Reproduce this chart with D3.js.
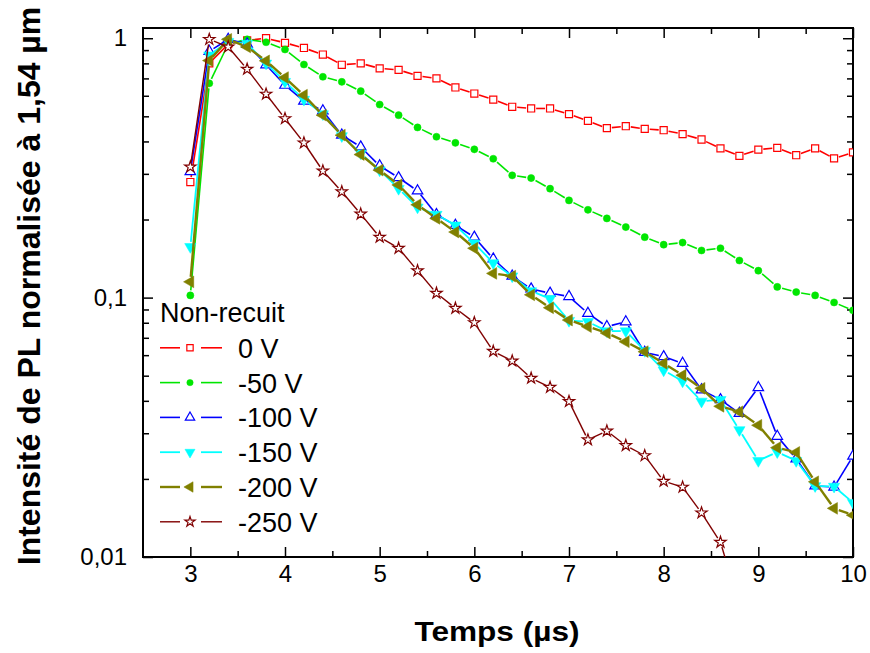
<!DOCTYPE html>
<meta charset="utf-8">
<style>
	body { margin: 0; background: #fff; }
	text { font-family: Arial, "Liberation Sans", sans-serif; }
	.axis path, .axis line { stroke: #000; }
	.axis text { font-size: 24px; fill: #000; }
	.title { font-weight: bold; }
</style>
<body>
<script src="https://cdn.jsdelivr.net/npm/d3@7"></script>
<script>
var width = 870,
    height = 653;

var margin = {left: 143, right: 17, top: 28, bottom: 96};

// time points (µs)
var time = [3.0, 3.2, 3.4, 3.6, 3.8, 4.0, 4.2, 4.4, 4.6, 4.8, 5.0, 5.2, 5.4, 5.6, 5.8, 6.0, 6.2, 6.4,
            6.6, 6.8, 7.0, 7.2, 7.4, 7.6, 7.8, 8.0, 8.2, 8.4, 8.6, 8.8, 9.0, 9.2, 9.4, 9.6, 9.8, 10.0];

var v0 = [0.279, 0.80, 0.95, 0.98, 1.0, 0.96, 0.917, 0.865, 0.79, 0.80, 0.765, 0.755, 0.716, 0.70, 0.646,
          0.612, 0.58, 0.544, 0.536, 0.536, 0.51, 0.48, 0.45, 0.458, 0.447, 0.442, 0.427, 0.407, 0.376,
          0.352, 0.372, 0.378, 0.354, 0.376, 0.344, 0.363];
var v50 = [0.102, 0.67, 0.95, 0.99, 0.965, 0.905, 0.792, 0.71, 0.679, 0.625, 0.555, 0.505, 0.453, 0.417,
           0.395, 0.373, 0.343, 0.296, 0.289, 0.263, 0.237, 0.218, 0.202, 0.187, 0.171, 0.16, 0.163, 0.152,
           0.155, 0.139, 0.127, 0.110, 0.105, 0.102, 0.0958, 0.0893];
var v100 = [0.306, 0.89, 0.99, 0.95, 0.79, 0.659, 0.572, 0.525, 0.423, 0.381, 0.322, 0.290, 0.258, 0.209,
            0.19, 0.171, 0.141, 0.121, 0.108, 0.104, 0.101, 0.087, 0.0773, 0.0807, 0.0615, 0.0592, 0.0558,
            0.0441, 0.0404, 0.0358, 0.045, 0.0292, 0.0239, 0.0188, 0.0186, 0.0245];
var v150 = [0.157, 0.86, 0.97, 0.954, 0.80, 0.68, 0.58, 0.51, 0.42, 0.36, 0.31, 0.263, 0.223, 0.209, 0.19,
            0.162, 0.136, 0.121, 0.106, 0.099, 0.0815, 0.0807, 0.0743, 0.0743, 0.0624, 0.0525, 0.0476,
            0.0398, 0.0404, 0.0309, 0.0235, 0.0254, 0.0235, 0.0188, 0.0187, 0.0162];
var v200 = [0.115, 0.82, 0.99, 0.926, 0.818, 0.705, 0.603, 0.505, 0.423, 0.356, 0.31, 0.272, 0.228, 0.202,
            0.179, 0.155, 0.124, 0.121, 0.1025, 0.0914, 0.0819, 0.0773, 0.073, 0.0676, 0.0619, 0.0558,
            0.0502, 0.0447, 0.0381, 0.0363, 0.0322, 0.0264, 0.0253, 0.0195, 0.0154, 0.0145];
var v250 = [0.319, 0.99, 0.926, 0.76, 0.609, 0.49, 0.395, 0.308, 0.256, 0.21, 0.171, 0.155, 0.127, 0.104,
            0.091, 0.0801, 0.0621, 0.057, 0.0489, 0.0451, 0.0398, 0.0283, 0.0306, 0.0269, 0.0246, 0.0196,
            0.0186, 0.0148, 0.0114, 0.0065];

var labels = ["0 V", "-50 V", "-100 V", "-150 V", "-200 V", "-250 V"];
var xTicks = [3, 4, 5, 6, 7, 8, 9, 10];
var yTicks = [0.01, 0.1, 1];
var yTickLabels = ["0,01", "0,1", "1"];

var series = [
  {name: labels[0], values: v0,   color: "#ff0000", sym: d3.symbolSquare,   size: 50, rot: 0,   fill: false, lw: 1.6},
  {name: labels[1], values: v50,  color: "#00e600", sym: d3.symbolCircle,   size: 40, rot: 0,   fill: true,  lw: 1.6},
  {name: labels[2], values: v100, color: "#0000ff", sym: d3.symbolTriangle, size: 48, rot: 0,   fill: false, lw: 1.6},
  {name: labels[3], values: v150, color: "#00ffff", sym: d3.symbolTriangle, size: 55, rot: 180, fill: true,  lw: 1.8},
  {name: labels[4], values: v200, color: "#808000", sym: d3.symbolTriangle, size: 60, rot: -90, fill: true,  lw: 2.4},
  {name: labels[5], values: v250, color: "#800000", sym: d3.symbolStar,     size: 40, rot: 0,   fill: false, lw: 1.4}
];

var svg = d3.select("body").append("svg")
    .attr("width", width)
    .attr("height", height);

var x = d3.scaleLinear()
    .domain([2.5, 10])
    .range([margin.left, width - margin.right]);

var y = d3.scaleLog()
    .domain([0.01, 1.095])
    .range([height - margin.bottom, margin.top]);

svg.append("clipPath").attr("id", "clip")
  .append("rect")
    .attr("x", margin.left).attr("y", margin.top)
    .attr("width", width - margin.left - margin.right)
    .attr("height", height - margin.top - margin.bottom);

// minor ticks
var xMinor = [3.5, 4.5, 5.5, 6.5, 7.5, 8.5, 9.5];
var yMinor = [];
[0.01, 0.1, 1].forEach(function(d) {
  for (var k = 2; k <= 9; k++) if (d * k < 1.095) yMinor.push(d * k);
});

var bottom = height - margin.bottom,
    right = width - margin.right;

function addAxis(axis, tx, ty) {
  svg.append("g").attr("class", "axis")
    .attr("transform", "translate(" + tx + "," + ty + ")")
    .call(axis)
    .call(function(g) { g.select(".domain").remove(); })
    .selectAll("line").attr("stroke-width", 1.5);
}

addAxis(d3.axisBottom(x).tickValues(xTicks).tickSize(-10).tickPadding(8).tickFormat(d3.format("d")), 0, bottom);
addAxis(d3.axisBottom(x).tickValues(xMinor).tickSize(-6).tickFormat(""), 0, bottom);
addAxis(d3.axisTop(x).tickValues(xTicks).tickSize(-10).tickFormat(""), 0, margin.top);
addAxis(d3.axisTop(x).tickValues(xMinor).tickSize(-6).tickFormat(""), 0, margin.top);
addAxis(d3.axisLeft(y).tickValues(yTicks).tickSize(-10).tickPadding(16)
        .tickFormat(function(d, i) { return yTickLabels[i]; }), margin.left, 0);
addAxis(d3.axisLeft(y).tickValues(yMinor).tickSize(-6).tickFormat(""), margin.left, 0);
addAxis(d3.axisRight(y).tickValues(yTicks).tickSize(-10).tickFormat(""), right, 0);
addAxis(d3.axisRight(y).tickValues(yMinor).tickSize(-6).tickFormat(""), right, 0);

// frame
svg.append("rect")
    .attr("x", margin.left).attr("y", margin.top)
    .attr("width", right - margin.left)
    .attr("height", bottom - margin.top)
    .attr("fill", "none")
    .attr("stroke", "#000")
    .attr("stroke-width", 2);

// lines with gaps around the markers
function gapSegments(pts, gap) {
  var segs = [];
  for (var i = 0; i < pts.length - 1; i++) {
    var a = pts[i], b = pts[i + 1];
    var dx = b[0] - a[0], dy = b[1] - a[1], len = Math.sqrt(dx * dx + dy * dy);
    if (len <= 2 * gap) continue;
    var ux = dx / len, uy = dy / len;
    segs.push([[a[0] + ux * gap, a[1] + uy * gap], [b[0] - ux * gap, b[1] - uy * gap]]);
  }
  return segs;
}

var plot = svg.append("g").attr("clip-path", "url(#clip)");

series.forEach(function(s) {
  var pts = s.values.map(function(v, i) { return [x(time[i]), y(v)]; });
  var g = plot.append("g");
  g.selectAll("line").data(gapSegments(pts, 5))
    .enter().append("line")
      .attr("x1", function(d) { return d[0][0]; })
      .attr("y1", function(d) { return d[0][1]; })
      .attr("x2", function(d) { return d[1][0]; })
      .attr("y2", function(d) { return d[1][1]; })
      .attr("stroke", s.color)
      .attr("stroke-width", s.lw);
  g.selectAll("path").data(pts)
    .enter().append("path")
      .attr("d", d3.symbol().type(s.sym).size(s.size))
      .attr("transform", function(d) { return "translate(" + d[0] + "," + d[1] + ") rotate(" + s.rot + ")"; })
      .attr("fill", s.fill ? s.color : "#fff")
      .attr("stroke", s.color)
      .attr("stroke-width", s.fill ? 0.5 : 1.2);
});

// legend
var legend = svg.append("g").attr("transform", "translate(160,313)");
legend.append("text")
    .attr("x", 0).attr("y", 9)
    .style("font-size", "27px")
    .text("Non-recuit");

series.forEach(function(s, i) {
  var row = legend.append("g").attr("transform", "translate(0," + (34.8 * (i + 1)) + ")");
  row.append("line").attr("x1", 0).attr("x2", 20).attr("stroke", s.color).attr("stroke-width", s.lw);
  row.append("line").attr("x1", 41).attr("x2", 62).attr("stroke", s.color).attr("stroke-width", s.lw);
  row.append("path")
    .attr("d", d3.symbol().type(s.sym).size(s.size * 0.8))
    .attr("transform", "translate(30,0) rotate(" + s.rot + ")")
    .attr("fill", s.fill ? s.color : "#fff")
    .attr("stroke", s.color)
    .attr("stroke-width", s.fill ? 0.5 : 1.2);
  row.append("text")
    .attr("x", 78).attr("y", 10)
    .style("font-size", "27px")
    .text(s.name);
});

// axis titles
svg.append("text")
    .attr("class", "title")
    .attr("x", 497)
    .attr("y", 641)
    .attr("text-anchor", "middle")
    .style("font-size", "28px")
    .attr("textLength", 165)
    .attr("lengthAdjust", "spacingAndGlyphs")
    .text("Temps (µs)");

svg.append("text")
    .attr("class", "title")
    .attr("transform", "translate(40,286) rotate(-90)")
    .attr("text-anchor", "middle")
    .style("font-size", "32px")
    .text("Intensité de PL normalisée à 1,54 µm");
</script>
